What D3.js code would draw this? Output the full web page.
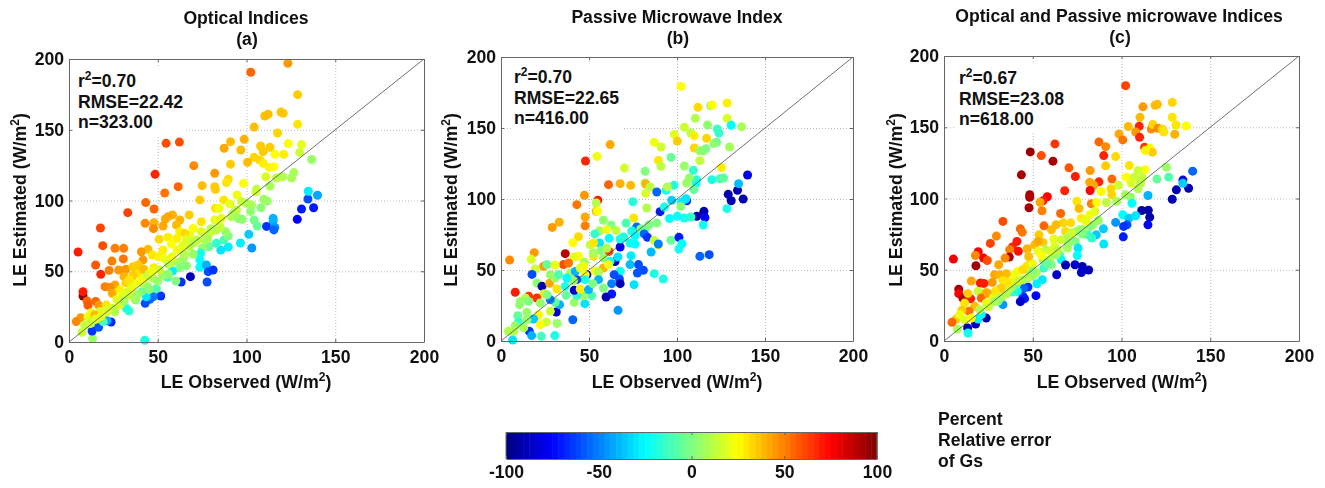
<!DOCTYPE html>
<html lang="en">
<head>
  <meta charset="UTF-8">
  <title>LE observed vs estimated</title>
  <script src="https://cdn.jsdelivr.net/npm/d3@7"></script>
  <style>
    html, body { margin: 0; padding: 0; background: #fff; }
    svg { display: block; filter: blur(0.35px); }
    text { font-family: "Liberation Sans", Arial, sans-serif; font-weight: bold; fill: #111; }
    .tick text { font-size: 17.6px; }
    .frame path, .frame line { stroke: #666; }
    .grid line { stroke: #bbb; stroke-dasharray: 1 2; }
  </style>
</head>
<body>
  <svg width="1325" height="488"></svg>
  <script>
    // [observed, estimated, percent relative error]
    var pointsA = [
      [123.3,197,45],[102.4,190.6,55],[128.8,174.8,35],[110.3,159.7,38],[112.2,160.9,38],[119.4,162.5,36],[120.7,161.6,36],
      [104.3,151.9,38],[128.8,153.8,30],[117.5,147.7,33],[98.7,143.2,40],[91,141.6,38],[87.4,136.9,42],[96.8,135.7,38],
      [107.9,138.5,35],[113.2,137.6,35],[109.4,134.5,35],[123.5,140.2,25],[131,139.5,20],[130,134,15],[136.7,129,5],
      [116,132.6,25],[121,132.6,28],[104.3,130.5,33],[107.5,128.6,33],[109.4,126.3,28],[100.6,127,38],[91,125.6,35],
      [70.3,124.6,48],[112.8,123.4,27],[115.4,123.9,25],[82.1,119.2,45],[110.9,116.8,18],[116.9,115.9,12],[120.3,116.8,10],
      [125.4,115.9,8],[126.7,119.7,8],[89.7,115,32],[88.7,112.6,30],[98.3,112.1,25],[75,110.5,38],[82.1,109.8,35],
      [82.5,107.9,35],[61.5,109.8,55],[53.9,105.3,52],[43.2,98.5,55],[47.9,94,55],[62.2,141.3,60],[54.7,140.4,60],
      [48.5,118.5,68],[33.1,91.4,62],[17.7,80.6,62],[19,68.1,60],[5.1,63.6,70],[25.9,66.2,50],[30.8,66.2,50],
      [15,54.4,58],[17.9,47.8,68],[22.6,50.6,50],[24.2,57.2,50],[30.6,58.7,52],[28,50.9,45],[32,51.4,45],[31,46.2,40],
      [32,41.9,33],[25.9,40.3,42],[20.3,39.1,50],[22.9,38.6,48],[24.4,34.4,42],[7.9,32.5,98],[7.9,35.6,70],[10.2,29,55],
      [10.7,25.9,58],[15,28.7,55],[16.7,26.1,45],[6.6,17.2,45],[4.1,14.4,48],[21,26.1,30],[17.3,21.4,18],[12.6,20.7,22],
      [10.7,17.9,22],[8.8,12,12],[13.5,14.4,5],[14.5,19.1,38],[7.3,6.8,15],[13.3,2.4,5],[13,7.8,-65],[16.7,10.4,-58],
      [23.7,14.1,-68],[42.7,1.2,-20],[21.4,15,-40],[19.2,14.4,-10],[73.7,100.4,35],[87.2,100.4,30],[94.7,103.9,22],
      [97.2,99.2,15],[67.7,89.8,35],[82.5,94.5,30],[84.6,94.5,22],[90.6,97.5,20],[105.6,107.9,12],[105.3,106.2,15],
      [113.2,110.2,8],[100,98,10],[102.8,96.8,8],[109.8,100.8,6],[111.7,99.6,5],[108.1,94.9,2],[102.3,92.3,3],
      [94.4,93.3,14],[92.5,90.9,10],[91.5,88.6,10],[95.3,87.2,5],[97.6,86.7,3],[104.3,86.2,-2],[106,82,-5],
      [115,87.4,-40],[115,85.5,-40],[111.3,81.7,-65],[116,81,-45],[115.4,79.2,-55],[128.6,86.7,-75],[131,94,-70],
      [134.6,101.1,-60],[137.8,94.9,-70],[134.8,106.5,-28],[140,103.7,-42],[101.3,76.1,-35],[96.6,70,-28],[89.7,67.1,-28],
      [103,66.4,-45],[85.5,65,-30],[87.2,72,-10],[89.7,74.9,0],[88.3,77.9,5],[85,81.5,15],[83,79.2,12],[79.3,76.8,15],
      [82.1,86.2,20],[85.9,87.4,20],[83,69.7,-15],[78.8,67.4,-5],[75,66.2,5],[76.5,72,10],[74.6,78,18],[74.6,85,30],
      [69.9,80.3,25],[68,75.6,20],[68,67.4,12],[62.4,86.2,40],[60.5,82.7,38],[58.3,89.8,40],[55.8,88.6,42],[54.3,86.9,42],
      [53,82,42],[47.9,84.3,40],[42.9,83.9,48],[47.6,80.1,48],[50.8,72.6,32],[55.8,74,28],[60.9,73.3,28],[57.7,69.3,25],
      [62.4,78,28],[65.2,76.8,32],[60.9,65,22],[53,65,28],[44.5,65.5,38],[40.8,63.8,45],[41.7,58,45],[47,61.5,30],
      [50.2,60.3,28],[53.4,59.1,22],[58.6,56.8,8],[62.4,56.8,8],[64.7,59.8,5],[66.2,53.9,2],[62.4,52.5,0],[58.3,50.2,-28],
      [74.2,62.7,-22],[73.7,58,-25],[73.7,52.8,-25],[77.4,54.4,-40],[78.4,49.7,-60],[81.2,50.9,-65],[77.8,42.4,-60],
      [68.4,46.2,-88],[63.2,42.4,-65],[60.2,43.1,0],[55.5,45.7,-12],[53,47.3,5],[51.7,32.5,-65],[49.2,37.7,-10],
      [47.4,32,-50],[45.5,30.2,-55],[42.9,27.3,-60],[43.6,32,-30],[40.8,35.6,-5],[37.6,29.7,0],[33.8,21.9,-15],[32.3,23.8,-20],
      [47.7,52.5,28],[47.4,45,10],[43.6,46.2,10],[41.7,41.5,12],[44.5,39.1,5],[37,41.5,22],[38.9,48.5,30],[36.1,53.2,35],
      [38.9,54.4,35],[42.1,51.4,38],[33.3,35.6,15],[28.6,36.7,28],[29.5,30.9,15],[24.2,23.8,15],[21,21.4,20],
      [25.8,21.4,10],[28.6,26.1,18],[34.2,33.2,15],[37,30.9,8],
      [35,38,20],[30,33,20],[27,30,20],[22,23,18],[18,18,20],[15,16,20],[12,13,15],[31,29,8],[39,34,5],[45,37,2],[50,43,5],
      [56,48,3],[45,48,15],[51,51,15],[56,55,12],[65,62,10],[70,70,10],[72,72,12],[78,73,8],[80,80,12],[70,62,5],[64,68,20],
      [58,60,22],[47,50,22],[41,44,22],[36,47,35],[34,44,30],[66,72,18]
    ];
    var pointsB = [
      [102.3,179.3,25],[111.9,164.6,32],[119.1,165.7,5],[120,166.2,25],[128.5,167.6,28],[128.5,156.8,18],[110.4,156.8,10],
      [117.4,152.1,3],[130.8,151.9,-25],[136.7,150.9,8],[104.2,150.5,15],[122.9,149.3,-12],[123.8,146.5,-15],[98.5,145.5,20],
      [107.9,146.5,12],[109.8,144.6,28],[100.2,140.8,35],[116.8,142.7,33],[122.5,139.9,-5],[121,139,3],[62,138.3,42],
      [87.1,139.9,22],[90.9,136.6,16],[129.9,136.6,7],[109.8,135.9,33],[113,134,5],[114.9,134,3],[116.4,135.4,0],
      [96.6,129.3,-5],[54.6,130,22],[48,126.8,68],[89.4,127.2,30],[90.9,123,12],[113,127,13],[104.2,123.2,5],[70.1,121.8,16],
      [81.9,119.5,0],[109.3,120.2,-15],[125.3,122.1,28],[119.8,113.6,-20],[124.4,114.3,-12],[126.5,114.8,-5],[111.2,113.6,-15],
      [110.8,110.8,-22],[107,114.8,5],[105.5,111.3,5],[109.6,106.6,-5],[98.3,109.6,-18],[93.8,106.1,-20],[94.5,108.5,10],
      [81.9,111.3,5],[82.2,110.6,40],[61.1,110.1,55],[67.7,110.8,40],[73.7,109.6,38],[82.2,104,18],[84.7,108.5,12],
      [88.5,104.9,-55],[47.4,102.6,45],[55,99.1,70],[54.1,97.2,10],[43.1,96,52],[74.9,98.1,-18],[97,99.1,-35],[105.5,98.8,-70],
      [102.6,97.9,-28],[105.1,100.2,-30],[102.1,94.8,3],[129.1,103.3,-90],[134.4,106.1,-90],[130.8,98.8,-90],[137.6,100,-90],
      [135,110.8,-38],[140.1,116.9,-80],[128.4,93.2,-20],[115.3,91.3,-92],[114.9,89,-92],[111.2,87.8,-92],[115.9,86.9,-75],
      [114.9,81.7,-22],[107.9,87.3,-15],[104.2,86.6,-20],[100.2,87.8,-25],[95.7,86.2,-25],[90.4,91.1,-70],[92.8,94.4,-20],
      [82.8,93.7,10],[54.1,91.3,40],[54.9,91.5,25],[47.8,87.3,42],[47.8,81.2,50],[33.1,83.6,40],[29.1,80,45],[44,73.5,32],
      [40.8,69.2,25],[75.4,86.6,30],[71.1,83.1,-10],[58.2,85,3],[62.6,81.7,0],[65.4,77.9,12],[56,77.7,8],[53.3,75.4,-15],
      [60.1,78.4,22],[77.1,80.3,-55],[74.3,77.5,-20],[76.2,74.2,-25],[79.4,78.9,0],[81.9,78.4,-5],[84.1,81.9,0],[88.5,83.1,0],
      [81.3,75.4,-55],[83.2,73,-65],[87,70.9,15],[89.4,67.5,25],[89.4,68.3,-50],[96.6,70.9,-5],[101.1,73,-70],[102.8,68.5,-25],
      [101.1,64.8,-22],[85.3,62.7,-38],[113,59.6,-55],[118.3,60.8,-60],[92.2,43.7,-20],[87,47.4,-20],[80.9,49.8,-60],
      [77.5,47.9,-58],[78.1,53.8,-60],[73.3,53.8,-38],[73.9,60.1,-28],[75.6,39.7,-30],[67.7,49.1,-22],[67.3,43.7,-60],
      [67.7,40.4,-90],[64.3,46.7,-60],[62.9,40.4,-50],[62.9,33.1,-70],[59.7,31,-90],[66.5,21.6,-45],[64.8,55.9,-90],
      [67.7,66.2,-75],[66.4,59.2,-30],[67.7,71.8,-20],[69.6,73.2,-18],[73.3,69,-22],[76.2,68.3,-25],[56,69,-30],[61.4,72.3,-25],
      [50.7,67.8,12],[52.6,69,30],[52.6,59.6,30],[61.4,63.1,60],[56.7,63.8,0],[60.1,65.5,10],[58.2,58.5,5],[52.6,62,8],
      [47.4,55.4,5],[58.2,51.4,40],[62,56.1,-20],[61.1,53.8,22],[53.5,49.1,25],[55.4,48.4,10],[55.4,43.2,-40],[48.8,46.7,-75],
      [47.8,46.7,25],[47.8,43.2,-20],[44,59.6,25],[41.6,59.2,20],[36.5,61.5,88],[18.9,62.2,45],[4.9,57,48],[17.2,57.5,18],
      [24.2,52.6,45],[26.1,53.8,-5],[19.5,50.7,15],[35.5,53.8,60],[30.8,53.5,22],[38.4,54.9,52],[17.6,46.9,-60],[8.1,34.3,70],
      [20.4,40.8,2],[23.3,38.5,-90],[27.6,40.6,42],[31.8,36.6,30],[24.6,33.3,28],[20.4,30.3,65],[15.7,31.5,65],[13.8,30.3,10],
      [11,27.9,5],[10.6,25.6,3],[15.7,27.9,0],[22.3,26.8,5],[31.4,20.4,-85],[28,20.9,15],[21.4,18.5,25],[14.7,20.2,5],
      [9.5,17.8,-5],[18.5,15.5,-35],[10,13.4,-15],[8.1,10.8,5],[4.2,6.8,10],[7.2,6.8,10],[6.6,0.7,-30],[16.1,6.8,-65],
      [17.4,3.8,-40],[22.9,3.3,-12],[30.6,3.8,-20],[31.9,12.4,5],[40.8,15,-55],[25.7,13.4,15],[22.3,11.5,25],[12.9,9.2,8],
      [14.7,15,5],[41.6,27.2,5],[47.6,26.3,-30],[51.6,31.9,-10],[46.9,31.9,5],[43.1,32.2,-15],[41.6,35.7,-85],[45,36.6,28],
      [49.7,36.2,-40],[58.2,37.3,0],[52.2,40.4,0],[37.1,32.2,-5],[36.5,38.5,-20],[33.3,25.6,-40],[30.8,27.2,-5],[28,29.1,-50],
      [26.1,32.6,0],[39.3,47.9,10],[42.2,49,-40],[43.1,43.2,-60],[41.2,42.5,5],[37.4,44.4,-25],[30.8,44.4,5],[28,46.7,5],
      [32.7,46.7,-10],[46.9,52.6,25],[45,51.4,20]
    ];
    var pointsC = [
      [102.3,179.2,62],[128.6,167.5,33],[112.1,164.3,45],[118.9,165.4,38],[120.2,166.1,38],[128.6,157,30],[110.4,157,38],
      [130.7,151.6,30],[136.5,150.9,25],[103.8,150.5,38],[116.8,148.8,48],[117.6,151.9,33],[110,150.7,68],[120.6,149.3,48],
      [123,148.6,32],[123.8,146.7,30],[130,145.1,40],[108,146.7,45],[98.6,145.3,42],[100.7,141.1,52],[110.2,143,68],
      [62.5,138.3,65],[87.3,139.7,55],[91.1,136.4,48],[90,130.1,68],[96.7,129.4,32],[113,136,65],[115.9,135.3,25],
      [117.4,132.5,35],[113.4,133.6,27],[48.6,132.7,95],[54.8,130.1,60],[61.4,126.2,92],[91.1,122.9,35],[104.4,123.1,30],
      [70.4,121.5,58],[125.3,122,5],[113.2,120.1,25],[109.3,119.6,15],[82.3,119.6,45],[74,115.4,70],[102.7,115,25],
      [107.2,115,15],[111.7,114.5,12],[126.6,115,-10],[120,113.6,-5],[94.6,113.6,55],[43.6,116.6,92],[82.1,111.4,42],
      [87.3,111.7,68],[84.3,109.3,42],[98.2,109.3,15],[105.5,110.7,18],[110.8,110.7,12],[94.1,106.8,33],[88.6,104.9,25],
      [109.3,106.8,10],[68,105.4,68],[82.3,105.6,75],[48.3,102.6,93],[48.3,100.9,90],[58.2,101.2,75],[55.8,98.4,70],
      [54.1,97.4,42],[94.5,102.6,33],[102.2,102.6,8],[105.2,100.9,5],[114.9,102.1,-40],[130.9,106.1,-90],[137.8,107.2,-90],
      [128.6,99.5,-90],[134.6,112.9,-80],[134.6,110.7,-35],[140.1,119.2,-55],[105.9,96.7,-25],[97.3,98.1,8],[91.5,97.2,12],
      [83,96.3,50],[86,97.2,25],[74.9,98.1,30],[76.1,93,38],[47.9,93.5,92],[55.2,91.4,50],[65.7,89.5,55],[33.2,83.9,60],
      [111.4,91.6,-92],[115.1,91.8,-92],[115.9,86.9,-92],[114.9,81.5,-75],[100.7,88.6,-25],[104.2,86.2,-35],[108,87.9,-30],
      [96.7,83.2,-45],[103.1,81.5,-60],[101.2,80.4,-65],[101,73.1,-70],[89.8,78.7,-35],[90,68,-30],[85.8,74.5,-35],
      [81.1,74.5,-12],[83.2,72.2,-15],[87,84.6,5],[83.9,81.5,8],[82.4,80.4,0],[82.1,88.6,22],[84.9,90.9,20],[77.4,86.2,28],
      [71.4,82.9,32],[67.2,82.9,33],[63.1,81.5,38],[60.5,78,38],[56.3,80.8,55],[68.5,76.9,32],[53.5,74.5,35],[76.4,78,8],
      [74.6,76.9,5],[74,69.9,0],[69.9,73.4,10],[61.8,71.5,20],[66.1,71,15],[55.8,69.2,35],[51.1,67.5,38],[53,69.9,42],
      [46.9,64.7,40],[75.5,65.2,-30],[75.1,60,-25],[69.5,65.2,8],[62.3,66.4,20],[57.3,64,12],[53,62.9,22],[65.2,60.5,-5],
      [66.1,57,-25],[63.3,60.5,5],[59.5,57,8],[55.8,57,5],[60.5,53.5,0],[56.2,51.2,-15],[68.5,53.3,-88],[73.8,53.5,-85],
      [77.9,52.3,-90],[77.4,48.1,-85],[81.5,49.8,-90],[63.5,46.5,-85],[55.4,43,-30],[52.4,40.2,-28],[51.8,31.8,-75],
      [47.3,37.9,-65],[44.9,36.9,-55],[44.5,31.3,-65],[45.4,29.7,-70],[43,27.6,-85],[41.3,34.8,-25],[38.9,34.3,-15],
      [33.2,25.5,-45],[23.8,16.1,-92],[17.8,11.9,-88],[13.3,9.1,-90],[13.5,5.6,-22],[7.5,8.4,8],[19.2,15.4,-28],[21,18.5,-25],
      [48.3,46.5,5],[50.1,45.8,5],[44.5,43,5],[40.8,39.5,-5],[37.9,37.9,5],[46.4,52.3,28],[41.7,48.8,25],[39.8,46.5,22],
      [44.5,50,32],[47.9,53.5,30],[47.7,59.3,38],[38.5,65.9,68],[37,64,50],[36.8,58.9,90],[34.4,58.2,48],[41.1,69.9,70],
      [41.9,62.9,72],[43,78.7,55],[44.1,76.4,52],[29.5,73.6,48],[26.1,68.5,62],[19.3,62.6,75],[17.7,60,48],[5.3,57.5,78],
      [22.3,58.2,75],[24.4,56.5,60],[18,52.8,92],[30.8,53.5,42],[28.5,46.5,42],[31.4,46.5,40],[35.1,47.2,38],[33.2,42.5,30],
      [27.2,41.1,45],[20.5,40.7,70],[22.5,40.4,70],[15.4,42.1,42],[8.3,36.4,92],[8.3,33.2,75],[10.7,29.9,90],[15,29.7,70],
      [13.5,33.2,35],[19.2,34.8,15],[23.8,34.1,40],[21,30.1,55],[24.8,33.2,42],[17.3,24.3,38],[11.6,26.6,30],[14.1,20.8,52],
      [10,21.5,35],[6.9,15.4,35],[4.5,13.1,55],[8.8,18.5,22],[11.6,15,18],[15.4,16.1,25],[23.8,26.6,22],[27.6,30.1,20],
      [31.4,30.1,18],[33.2,37.1,20],[36.1,36,12],[30.4,27.8,0],[28.5,27.8,8],[20.1,22,10],[32.3,30.6,5],
      [25,24,15],[35,33,10],[38,42,22],[42,42,15],[47,44,10],[52,48,8],[50,54,22],[55,60,25],[60,63,18],[64,64,12],
      [70,68,5],[72,76,15],[78,78,5],[80,84,20],[78,75,0],[58,54,-5],[50,49,2],[36,41,30],[32,37,35],[29,35,30]
    ];
    var axisTicks = [0, 50, 100, 150, 200];
    var barTicks = [-100, -50, 0, 50, 100];
    var statsA = ['=0.70', 'RMSE=22.42', 'n=323.00'];
    var statsB = ['=0.70', 'RMSE=22.65', 'n=416.00'];
    var statsC = ['=0.67', 'RMSE=23.08', 'n=618.00'];

    var svg = d3.select('svg');

    // jet colormap, 64 flat steps like the colorbar
    var jet = d3.scaleLinear()
      .domain([-100, -75, -25, 25, 75, 100])
      .range(['#00007f', '#0000ff', '#00ffff', '#ffff00', '#ff0000', '#7f0000'])
      .clamp(true);
    var barScale = d3.scaleLinear().domain([-100, 100]).range([506, 877]);

    function addSup(sel, before, after) {
      sel.append('tspan').text(before);
      sel.append('tspan').attr('dy', -7).attr('font-size', '12px').text('2');
      sel.append('tspan').attr('dy', 7).text(after);
    }

    function drawPanel(p) {
      var x = d3.scaleLinear().domain([0, 200]).range([p.left, p.right]);
      var y = d3.scaleLinear().domain([0, 200]).range([p.bottom, p.top]);
      var h = p.bottom - p.top;
      var w = p.right - p.left;
      var g = svg.append('g');

      g.append('g').attr('class', 'grid')
        .attr('transform', 'translate(0,' + p.bottom + ')')
        .call(d3.axisBottom(x).tickValues(axisTicks).tickSize(-h).tickFormat(''))
        .call(function(s) { s.select('.domain').remove(); });
      g.append('g').attr('class', 'grid')
        .attr('transform', 'translate(' + p.left + ',0)')
        .call(d3.axisLeft(y).tickValues(axisTicks).tickSize(-w).tickFormat(''))
        .call(function(s) { s.select('.domain').remove(); });

      // stats sit on a white box that hides the grid under them
      var stats = g.append('g').attr('font-size', '17.6px');
      var first = stats.append('text').attr('x', p.statX).attr('y', p.statY);
      addSup(first, 'r', p.stats[0]);
      p.stats.slice(1).forEach(function(s, i) {
        stats.append('text').attr('x', p.statX).attr('y', p.statY + 20.5 * (i + 1)).text(s);
      });
      var box = stats.node().getBBox();
      stats.insert('rect', 'text')
        .attr('x', box.x - 3).attr('y', box.y - 3)
        .attr('width', box.width + 6).attr('height', box.height + 6)
        .attr('fill', '#fff');

      g.append('g').selectAll('circle')
        .data(p.points)
        .enter()
        .append('circle')
        .attr('cx', function(d) { return x(d[0]); })
        .attr('cy', function(d) { return y(d[1]); })
        .attr('r', 4.5)
        .attr('fill', function(d) { return jet(d[2]); });

      g.append('line')
        .attr('x1', x(0)).attr('y1', y(0))
        .attr('x2', x(200)).attr('y2', y(200))
        .attr('stroke', '#333').attr('stroke-width', 0.7);

      g.append('g').attr('class', 'frame')
        .attr('transform', 'translate(0,' + p.bottom + ')')
        .call(d3.axisBottom(x).tickValues(axisTicks).tickSizeInner(-3).tickSizeOuter(0).tickPadding(9));
      g.append('g').attr('class', 'frame')
        .attr('transform', 'translate(' + p.left + ',0)')
        .call(d3.axisLeft(y).tickValues(axisTicks).tickSizeInner(-3).tickSizeOuter(0).tickPadding(5));
      g.append('g').attr('class', 'frame')
        .attr('transform', 'translate(0,' + p.top + ')')
        .call(d3.axisTop(x).tickValues(axisTicks).tickSizeInner(-3).tickSizeOuter(0).tickFormat(''));
      g.append('g').attr('class', 'frame')
        .attr('transform', 'translate(' + p.right + ',0)')
        .call(d3.axisRight(y).tickValues(axisTicks).tickSizeInner(-3).tickSizeOuter(0).tickFormat(''));

      g.append('text').attr('x', p.titleX).attr('y', p.titleY)
        .attr('text-anchor', 'middle').attr('font-size', '17.6px').text(p.title);
      g.append('text').attr('x', p.titleX + 1).attr('y', p.titleY + 21)
        .attr('text-anchor', 'middle').attr('font-size', '17.6px').text(p.letter);

      var xl = g.append('text').attr('x', p.xLabelX).attr('y', 388)
        .attr('text-anchor', 'middle').attr('font-size', '17.8px');
      addSup(xl, 'LE Observed (W/m', ')');
      var yl = g.append('text')
        .attr('transform', 'translate(' + p.yLabelX + ',200) rotate(-90)')
        .attr('text-anchor', 'middle').attr('font-size', '17.8px');
      addSup(yl, 'LE Estimated (W/m', ')');
    }

    drawPanel({
      points: pointsA, stats: statsA, title: 'Optical Indices', letter: '(a)',
      left: 69, right: 424, top: 59, bottom: 342,
      statX: 78, statY: 87, titleX: 246, titleY: 24, xLabelX: 246, yLabelX: 26
    });
    drawPanel({
      points: pointsB, stats: statsB, title: 'Passive Microwave Index', letter: '(b)',
      left: 501, right: 853, top: 57, bottom: 341,
      statX: 514, statY: 83, titleX: 677, titleY: 23, xLabelX: 677, yLabelX: 457
    });
    drawPanel({
      points: pointsC, stats: statsC, title: 'Optical and Passive microwave Indices', letter: '(c)',
      left: 944, right: 1299, top: 56, bottom: 341,
      statX: 959, statY: 84, titleX: 1119, titleY: 22, xLabelX: 1122, yLabelX: 902
    });

    // colorbar
    var barTop = 432, barBottom = 459;
    var steps = d3.range(64);
    var cb = svg.append('g');
    cb.selectAll('rect')
      .data(steps)
      .enter()
      .append('rect')
      .attr('x', function(d) { return barScale(-100 + d * 200 / 64); })
      .attr('y', barTop)
      .attr('width', 371 / 64 + 0.5)
      .attr('height', barBottom - barTop)
      .attr('fill', function(d) { return jet(-100 + (d + 0.5) * 200 / 64); });
    cb.append('g').attr('class', 'frame')
      .attr('transform', 'translate(0,' + barBottom + ')')
      .call(d3.axisBottom(barScale).tickValues(barTicks).tickSizeInner(-3).tickSizeOuter(0).tickPadding(7)
        .tickFormat(function(d) { return String(d); }));
    cb.append('g').attr('class', 'frame')
      .attr('transform', 'translate(0,' + barTop + ')')
      .call(d3.axisTop(barScale).tickValues(barTicks).tickSizeInner(-3).tickSizeOuter(0).tickFormat(''));
    cb.append('line').attr('x1', 506).attr('x2', 506).attr('y1', barTop).attr('y2', barBottom).attr('stroke', '#666');
    cb.append('line').attr('x1', 877).attr('x2', 877).attr('y1', barTop).attr('y2', barBottom).attr('stroke', '#666');

    ['Percent', 'Relative error', 'of Gs'].forEach(function(s, i) {
      svg.append('text').attr('x', 938).attr('y', 425 + i * 21).attr('font-size', '17.6px').text(s);
    });
  </script>
</body>
</html>
